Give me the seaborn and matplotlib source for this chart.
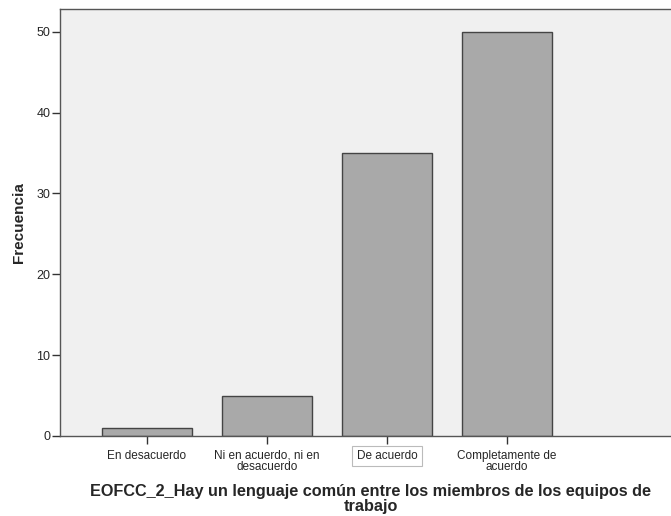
import matplotlib
matplotlib.use("Agg")
import matplotlib.pyplot as plt
import seaborn as sns
import pandas as pd

categories = ["En desacuerdo", "Ni en acuerdo, ni en\ndesacuerdo", "De acuerdo", "Completamente de\nacuerdo"]
frecuencia = [1, 5, 35, 50]
yticks = [0, 10, 20, 30, 40, 50]

sns.set_style("white")
plt.rcParams['font.family'] = ['Liberation Sans', 'DejaVu Sans']

df = pd.DataFrame({"cat": categories, "freq": frecuencia})

W, H = 671, 516
ax_left_px, ax_w_px = 60, 620
fig = plt.figure(figsize=(W / 100, H / 100), dpi=100)
ax = fig.add_axes([ax_left_px / W, 80 / H, ax_w_px / W, 427 / H])
ax.set_facecolor("#F0F0F0")
sns.barplot(data=df, x="cat", y="freq", color="#A9A9A9", width=0.75,
            edgecolor="#444444", linewidth=1.0, saturation=1, ax=ax)
ax.set_xlim(-0.725, -0.725 + ax_w_px / 120)
ax.set_ylim(0, 52.8)
ax.set_yticks(yticks)
ax.set_yticklabels([str(v) for v in yticks], fontsize=9)
ax.tick_params(axis='y', left=True, direction='out', length=6, width=1, color="#333333", pad=1)
ax.tick_params(axis='x', bottom=True, direction='out', length=6, width=1, color="#333333", pad=4, labelsize=8.5)
for s in ["left", "bottom", "top"]:
    ax.spines[s].set_color("#555555")
    ax.spines[s].set_linewidth(1.0)
ax.spines["right"].set_visible(False)
labels = ax.get_xticklabels()
for lbl in labels:
    lbl.set_linespacing(0.95)
labels[2].set_bbox(dict(facecolor="white", edgecolor="#BBBBBB", boxstyle="square,pad=0.35", linewidth=0.8))
ax.set_ylabel("Frecuencia", fontsize=11, fontweight="bold")
ax.yaxis.set_label_coords(-(60 - 26) / ax_w_px, 0.5)
ax.set_xlabel("EOFCC_2_Hay un lenguaje común entre los miembros de los equipos de\ntrabajo",
              fontsize=11.7, fontweight="bold", linespacing=0.95)
ax.xaxis.set_label_coords((370.5 - ax_left_px) / ax_w_px, -(499 - 436) / 427)
ax.xaxis.label.set_va("center")
fig.savefig("out.png", dpi=100)
